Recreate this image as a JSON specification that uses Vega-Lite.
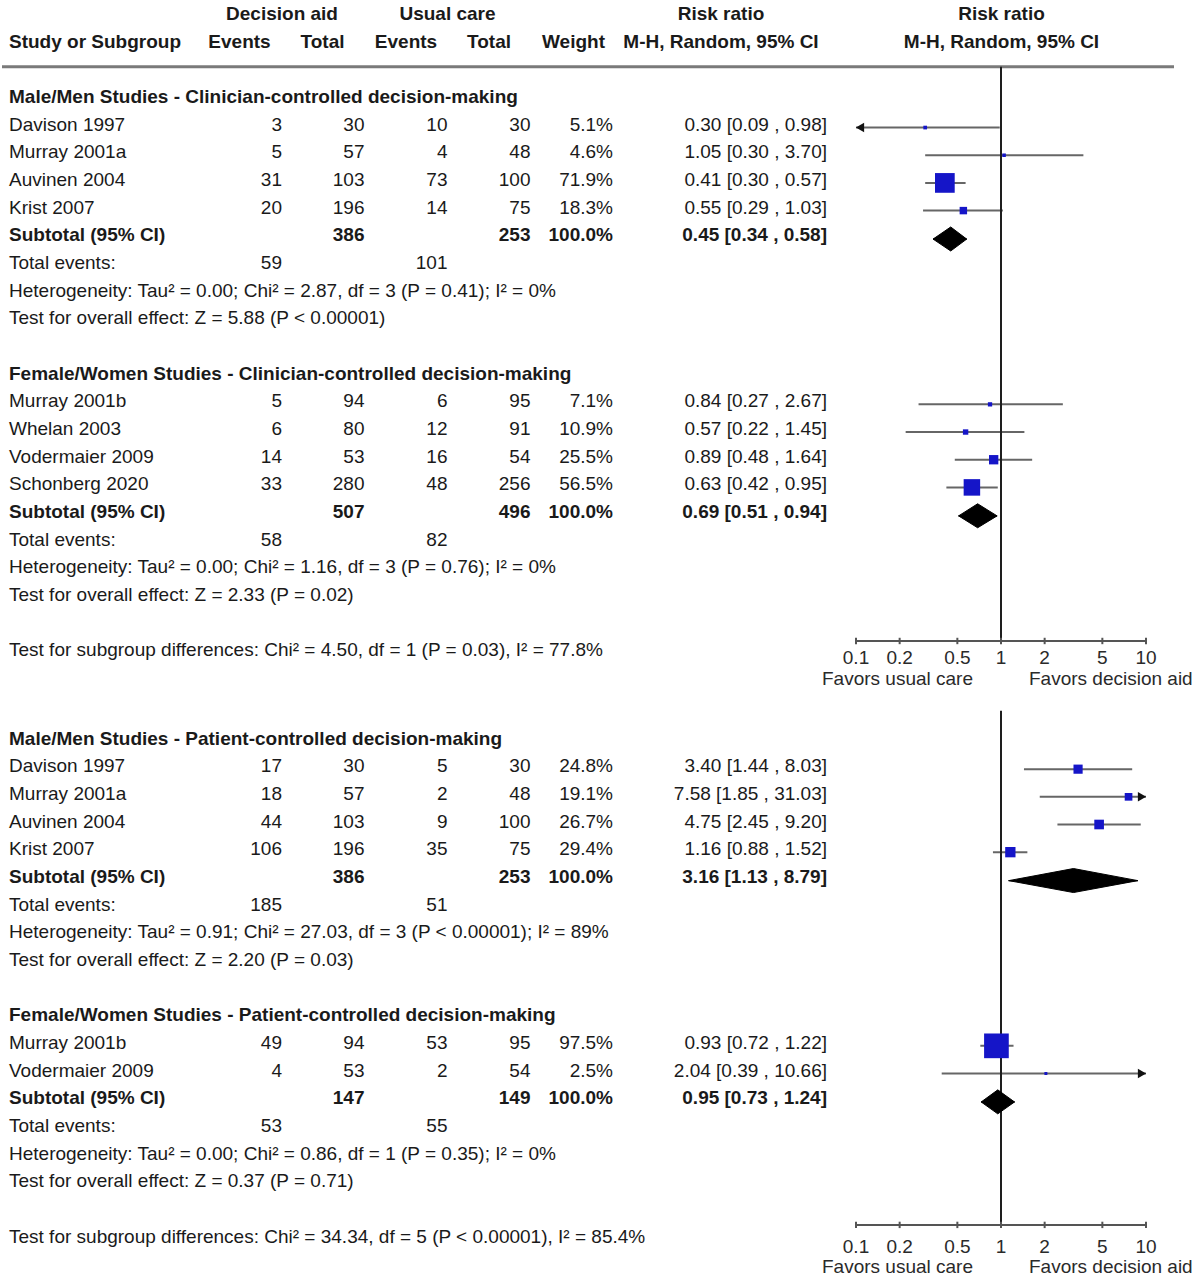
{
  "$schema": "https://vega.github.io/schema/vega-lite/v6.json",
  "padding": 0,
  "background": "white",
  "spacing": 5,
  "config": {
    "view": {"stroke": null},
    "text": {"font": "Liberation Sans", "fontSize": 19, "color": "#1a1a1a"}
  },
  "resolve": {"scale": {"x": "independent", "y": "independent"}},
  "datasets": {
    "cells": [
      {"p":1,"row":0,"col":3,"kind":"header","text":"Decision aid"},
      {"p":1,"row":0,"col":7,"kind":"header","text":"Usual care"},
      {"p":1,"row":0,"col":12,"kind":"header","text":"Risk ratio"},
      {"p":1,"row":0,"col":14,"kind":"header","text":"Risk ratio"},
      {"p":1,"row":1,"col":1,"kind":"header","text":"Study or Subgroup"},
      {"p":1,"row":1,"col":2,"kind":"header","text":"Events"},
      {"p":1,"row":1,"col":4,"kind":"header","text":"Total"},
      {"p":1,"row":1,"col":6,"kind":"header","text":"Events"},
      {"p":1,"row":1,"col":8,"kind":"header","text":"Total"},
      {"p":1,"row":1,"col":10,"kind":"header","text":"Weight"},
      {"p":1,"row":1,"col":12,"kind":"header","text":"M-H, Random, 95% CI"},
      {"p":1,"row":1,"col":14,"kind":"header","text":"M-H, Random, 95% CI"},

      {"p":1,"row":3,"col":1,"kind":"title","text":"Male/Men Studies - Clinician-controlled decision-making"},
      {"p":1,"row":4,"col":1,"kind":"study","text":"Davison 1997"},
      {"p":1,"row":4,"col":3,"kind":"study","text":"3"},
      {"p":1,"row":4,"col":5,"kind":"study","text":"30"},
      {"p":1,"row":4,"col":7,"kind":"study","text":"10"},
      {"p":1,"row":4,"col":9,"kind":"study","text":"30"},
      {"p":1,"row":4,"col":11,"kind":"study","text":"5.1%"},
      {"p":1,"row":4,"col":13,"kind":"study","text":"0.30 [0.09 , 0.98]"},
      {"p":1,"row":5,"col":1,"kind":"study","text":"Murray 2001a"},
      {"p":1,"row":5,"col":3,"kind":"study","text":"5"},
      {"p":1,"row":5,"col":5,"kind":"study","text":"57"},
      {"p":1,"row":5,"col":7,"kind":"study","text":"4"},
      {"p":1,"row":5,"col":9,"kind":"study","text":"48"},
      {"p":1,"row":5,"col":11,"kind":"study","text":"4.6%"},
      {"p":1,"row":5,"col":13,"kind":"study","text":"1.05 [0.30 , 3.70]"},
      {"p":1,"row":6,"col":1,"kind":"study","text":"Auvinen 2004"},
      {"p":1,"row":6,"col":3,"kind":"study","text":"31"},
      {"p":1,"row":6,"col":5,"kind":"study","text":"103"},
      {"p":1,"row":6,"col":7,"kind":"study","text":"73"},
      {"p":1,"row":6,"col":9,"kind":"study","text":"100"},
      {"p":1,"row":6,"col":11,"kind":"study","text":"71.9%"},
      {"p":1,"row":6,"col":13,"kind":"study","text":"0.41 [0.30 , 0.57]"},
      {"p":1,"row":7,"col":1,"kind":"study","text":"Krist 2007"},
      {"p":1,"row":7,"col":3,"kind":"study","text":"20"},
      {"p":1,"row":7,"col":5,"kind":"study","text":"196"},
      {"p":1,"row":7,"col":7,"kind":"study","text":"14"},
      {"p":1,"row":7,"col":9,"kind":"study","text":"75"},
      {"p":1,"row":7,"col":11,"kind":"study","text":"18.3%"},
      {"p":1,"row":7,"col":13,"kind":"study","text":"0.55 [0.29 , 1.03]"},
      {"p":1,"row":8,"col":1,"kind":"subtotal","text":"Subtotal (95% CI)"},
      {"p":1,"row":8,"col":5,"kind":"subtotal","text":"386"},
      {"p":1,"row":8,"col":9,"kind":"subtotal","text":"253"},
      {"p":1,"row":8,"col":11,"kind":"subtotal","text":"100.0%"},
      {"p":1,"row":8,"col":13,"kind":"subtotal","text":"0.45 [0.34 , 0.58]"},
      {"p":1,"row":9,"col":1,"kind":"events","text":"Total events:"},
      {"p":1,"row":9,"col":3,"kind":"events","text":"59"},
      {"p":1,"row":9,"col":7,"kind":"events","text":"101"},
      {"p":1,"row":10,"col":1,"kind":"note","text":"Heterogeneity: Tau² = 0.00; Chi² = 2.87, df = 3 (P = 0.41); I² = 0%"},
      {"p":1,"row":11,"col":1,"kind":"note","text":"Test for overall effect: Z = 5.88 (P < 0.00001)"},

      {"p":1,"row":13,"col":1,"kind":"title","text":"Female/Women Studies - Clinician-controlled decision-making"},
      {"p":1,"row":14,"col":1,"kind":"study","text":"Murray 2001b"},
      {"p":1,"row":14,"col":3,"kind":"study","text":"5"},
      {"p":1,"row":14,"col":5,"kind":"study","text":"94"},
      {"p":1,"row":14,"col":7,"kind":"study","text":"6"},
      {"p":1,"row":14,"col":9,"kind":"study","text":"95"},
      {"p":1,"row":14,"col":11,"kind":"study","text":"7.1%"},
      {"p":1,"row":14,"col":13,"kind":"study","text":"0.84 [0.27 , 2.67]"},
      {"p":1,"row":15,"col":1,"kind":"study","text":"Whelan 2003"},
      {"p":1,"row":15,"col":3,"kind":"study","text":"6"},
      {"p":1,"row":15,"col":5,"kind":"study","text":"80"},
      {"p":1,"row":15,"col":7,"kind":"study","text":"12"},
      {"p":1,"row":15,"col":9,"kind":"study","text":"91"},
      {"p":1,"row":15,"col":11,"kind":"study","text":"10.9%"},
      {"p":1,"row":15,"col":13,"kind":"study","text":"0.57 [0.22 , 1.45]"},
      {"p":1,"row":16,"col":1,"kind":"study","text":"Vodermaier 2009"},
      {"p":1,"row":16,"col":3,"kind":"study","text":"14"},
      {"p":1,"row":16,"col":5,"kind":"study","text":"53"},
      {"p":1,"row":16,"col":7,"kind":"study","text":"16"},
      {"p":1,"row":16,"col":9,"kind":"study","text":"54"},
      {"p":1,"row":16,"col":11,"kind":"study","text":"25.5%"},
      {"p":1,"row":16,"col":13,"kind":"study","text":"0.89 [0.48 , 1.64]"},
      {"p":1,"row":17,"col":1,"kind":"study","text":"Schonberg 2020"},
      {"p":1,"row":17,"col":3,"kind":"study","text":"33"},
      {"p":1,"row":17,"col":5,"kind":"study","text":"280"},
      {"p":1,"row":17,"col":7,"kind":"study","text":"48"},
      {"p":1,"row":17,"col":9,"kind":"study","text":"256"},
      {"p":1,"row":17,"col":11,"kind":"study","text":"56.5%"},
      {"p":1,"row":17,"col":13,"kind":"study","text":"0.63 [0.42 , 0.95]"},
      {"p":1,"row":18,"col":1,"kind":"subtotal","text":"Subtotal (95% CI)"},
      {"p":1,"row":18,"col":5,"kind":"subtotal","text":"507"},
      {"p":1,"row":18,"col":9,"kind":"subtotal","text":"496"},
      {"p":1,"row":18,"col":11,"kind":"subtotal","text":"100.0%"},
      {"p":1,"row":18,"col":13,"kind":"subtotal","text":"0.69 [0.51 , 0.94]"},
      {"p":1,"row":19,"col":1,"kind":"events","text":"Total events:"},
      {"p":1,"row":19,"col":3,"kind":"events","text":"58"},
      {"p":1,"row":19,"col":7,"kind":"events","text":"82"},
      {"p":1,"row":20,"col":1,"kind":"note","text":"Heterogeneity: Tau² = 0.00; Chi² = 1.16, df = 3 (P = 0.76); I² = 0%"},
      {"p":1,"row":21,"col":1,"kind":"note","text":"Test for overall effect: Z = 2.33 (P = 0.02)"},
      {"p":1,"row":23,"col":1,"kind":"note","text":"Test for subgroup differences: Chi² = 4.50, df = 1 (P = 0.03), I² = 77.8%"},

      {"p":2,"row":1,"col":1,"kind":"title","text":"Male/Men Studies - Patient-controlled decision-making"},
      {"p":2,"row":2,"col":1,"kind":"study","text":"Davison 1997"},
      {"p":2,"row":2,"col":3,"kind":"study","text":"17"},
      {"p":2,"row":2,"col":5,"kind":"study","text":"30"},
      {"p":2,"row":2,"col":7,"kind":"study","text":"5"},
      {"p":2,"row":2,"col":9,"kind":"study","text":"30"},
      {"p":2,"row":2,"col":11,"kind":"study","text":"24.8%"},
      {"p":2,"row":2,"col":13,"kind":"study","text":"3.40 [1.44 , 8.03]"},
      {"p":2,"row":3,"col":1,"kind":"study","text":"Murray 2001a"},
      {"p":2,"row":3,"col":3,"kind":"study","text":"18"},
      {"p":2,"row":3,"col":5,"kind":"study","text":"57"},
      {"p":2,"row":3,"col":7,"kind":"study","text":"2"},
      {"p":2,"row":3,"col":9,"kind":"study","text":"48"},
      {"p":2,"row":3,"col":11,"kind":"study","text":"19.1%"},
      {"p":2,"row":3,"col":13,"kind":"study","text":"7.58 [1.85 , 31.03]"},
      {"p":2,"row":4,"col":1,"kind":"study","text":"Auvinen 2004"},
      {"p":2,"row":4,"col":3,"kind":"study","text":"44"},
      {"p":2,"row":4,"col":5,"kind":"study","text":"103"},
      {"p":2,"row":4,"col":7,"kind":"study","text":"9"},
      {"p":2,"row":4,"col":9,"kind":"study","text":"100"},
      {"p":2,"row":4,"col":11,"kind":"study","text":"26.7%"},
      {"p":2,"row":4,"col":13,"kind":"study","text":"4.75 [2.45 , 9.20]"},
      {"p":2,"row":5,"col":1,"kind":"study","text":"Krist 2007"},
      {"p":2,"row":5,"col":3,"kind":"study","text":"106"},
      {"p":2,"row":5,"col":5,"kind":"study","text":"196"},
      {"p":2,"row":5,"col":7,"kind":"study","text":"35"},
      {"p":2,"row":5,"col":9,"kind":"study","text":"75"},
      {"p":2,"row":5,"col":11,"kind":"study","text":"29.4%"},
      {"p":2,"row":5,"col":13,"kind":"study","text":"1.16 [0.88 , 1.52]"},
      {"p":2,"row":6,"col":1,"kind":"subtotal","text":"Subtotal (95% CI)"},
      {"p":2,"row":6,"col":5,"kind":"subtotal","text":"386"},
      {"p":2,"row":6,"col":9,"kind":"subtotal","text":"253"},
      {"p":2,"row":6,"col":11,"kind":"subtotal","text":"100.0%"},
      {"p":2,"row":6,"col":13,"kind":"subtotal","text":"3.16 [1.13 , 8.79]"},
      {"p":2,"row":7,"col":1,"kind":"events","text":"Total events:"},
      {"p":2,"row":7,"col":3,"kind":"events","text":"185"},
      {"p":2,"row":7,"col":7,"kind":"events","text":"51"},
      {"p":2,"row":8,"col":1,"kind":"note","text":"Heterogeneity: Tau² = 0.91; Chi² = 27.03, df = 3 (P < 0.00001); I² = 89%"},
      {"p":2,"row":9,"col":1,"kind":"note","text":"Test for overall effect: Z = 2.20 (P = 0.03)"},

      {"p":2,"row":11,"col":1,"kind":"title","text":"Female/Women Studies - Patient-controlled decision-making"},
      {"p":2,"row":12,"col":1,"kind":"study","text":"Murray 2001b"},
      {"p":2,"row":12,"col":3,"kind":"study","text":"49"},
      {"p":2,"row":12,"col":5,"kind":"study","text":"94"},
      {"p":2,"row":12,"col":7,"kind":"study","text":"53"},
      {"p":2,"row":12,"col":9,"kind":"study","text":"95"},
      {"p":2,"row":12,"col":11,"kind":"study","text":"97.5%"},
      {"p":2,"row":12,"col":13,"kind":"study","text":"0.93 [0.72 , 1.22]"},
      {"p":2,"row":13,"col":1,"kind":"study","text":"Vodermaier 2009"},
      {"p":2,"row":13,"col":3,"kind":"study","text":"4"},
      {"p":2,"row":13,"col":5,"kind":"study","text":"53"},
      {"p":2,"row":13,"col":7,"kind":"study","text":"2"},
      {"p":2,"row":13,"col":9,"kind":"study","text":"54"},
      {"p":2,"row":13,"col":11,"kind":"study","text":"2.5%"},
      {"p":2,"row":13,"col":13,"kind":"study","text":"2.04 [0.39 , 10.66]"},
      {"p":2,"row":14,"col":1,"kind":"subtotal","text":"Subtotal (95% CI)"},
      {"p":2,"row":14,"col":5,"kind":"subtotal","text":"147"},
      {"p":2,"row":14,"col":9,"kind":"subtotal","text":"149"},
      {"p":2,"row":14,"col":11,"kind":"subtotal","text":"100.0%"},
      {"p":2,"row":14,"col":13,"kind":"subtotal","text":"0.95 [0.73 , 1.24]"},
      {"p":2,"row":15,"col":1,"kind":"events","text":"Total events:"},
      {"p":2,"row":15,"col":3,"kind":"events","text":"53"},
      {"p":2,"row":15,"col":7,"kind":"events","text":"55"},
      {"p":2,"row":16,"col":1,"kind":"note","text":"Heterogeneity: Tau² = 0.00; Chi² = 0.86, df = 1 (P = 0.35); I² = 0%"},
      {"p":2,"row":17,"col":1,"kind":"note","text":"Test for overall effect: Z = 0.37 (P = 0.71)"},
      {"p":2,"row":19,"col":1,"kind":"note","text":"Test for subgroup differences: Chi² = 34.34, df = 5 (P < 0.00001), I² = 85.4%"}
    ],
    "studies": [
      {"p":1,"row":4,"est":0.30,"lo":0.09,"hi":0.98,"w":5.1},
      {"p":1,"row":5,"est":1.05,"lo":0.30,"hi":3.70,"w":4.6},
      {"p":1,"row":6,"est":0.41,"lo":0.30,"hi":0.57,"w":71.9},
      {"p":1,"row":7,"est":0.55,"lo":0.29,"hi":1.03,"w":18.3},
      {"p":1,"row":14,"est":0.84,"lo":0.27,"hi":2.67,"w":7.1},
      {"p":1,"row":15,"est":0.57,"lo":0.22,"hi":1.45,"w":10.9},
      {"p":1,"row":16,"est":0.89,"lo":0.48,"hi":1.64,"w":25.5},
      {"p":1,"row":17,"est":0.63,"lo":0.42,"hi":0.95,"w":56.5},
      {"p":2,"row":2,"est":3.40,"lo":1.44,"hi":8.03,"w":24.8},
      {"p":2,"row":3,"est":7.58,"lo":1.85,"hi":31.03,"w":19.1},
      {"p":2,"row":4,"est":4.75,"lo":2.45,"hi":9.20,"w":26.7},
      {"p":2,"row":5,"est":1.16,"lo":0.88,"hi":1.52,"w":29.4},
      {"p":2,"row":12,"est":0.93,"lo":0.72,"hi":1.22,"w":97.5},
      {"p":2,"row":13,"est":2.04,"lo":0.39,"hi":10.66,"w":2.5}
    ],
    "diamond": [
      {"p":1,"row":8,"rr":0.34,"apex":0},
      {"p":1,"row":8,"rr":0.45,"apex":1},
      {"p":1,"row":8,"rr":0.58,"apex":0},
      {"p":1,"row":18,"rr":0.51,"apex":0},
      {"p":1,"row":18,"rr":0.69,"apex":1},
      {"p":1,"row":18,"rr":0.94,"apex":0},
      {"p":2,"row":6,"rr":1.13,"apex":0},
      {"p":2,"row":6,"rr":3.16,"apex":1},
      {"p":2,"row":6,"rr":8.79,"apex":0},
      {"p":2,"row":14,"rr":0.73,"apex":0},
      {"p":2,"row":14,"rr":0.95,"apex":1},
      {"p":2,"row":14,"rr":1.24,"apex":0}
    ],
    "ticks": [
      {"v":0.1,"label":"0.1"},
      {"v":0.2,"label":"0.2"},
      {"v":0.5,"label":"0.5"},
      {"v":1,"label":"1"},
      {"v":2,"label":"2"},
      {"v":5,"label":"5"},
      {"v":10,"label":"10"}
    ],
    "favors": [
      {"side":"below 1","label":"Favors usual care"},
      {"side":"above 1","label":"Favors decision aid"}
    ]
  },
  "vconcat": [
    {
      "width": 1202,
      "height": 692,
      "resolve": {"scale": {"x": "independent"}},
      "layer": [
        {
          "data": {"name": "cells"},
          "encoding": {
            "x": {"field": "col", "type": "quantitative", "axis": null,
                  "scale": {"domain": [0,1,2,3,4,5,6,7,8,9,10,11,12,13,14,15], "range": [2,9,239.5,282,322.5,364.5,406,447.5,489,530.5,573.5,613,721,827,1001.5,1174], "nice": false, "zero": false}},
            "y": {"field": "row", "type": "ordinal", "axis": null,
                  "scale": {"type": "point", "domain": [0,1,2,3,4,5,6,7,8,9,10,11,12,13,14,15,16,17,18,19,20,21,22,23,24], "padding": 0.5}}
          },
          "layer": [
            {"transform": [{"filter": "datum.p == 1 && datum.row == 1 && datum.col == 1"}],
             "mark": {"type": "rule", "color": "#7a7a7a", "strokeWidth": 3, "yOffset": -2.5},
             "encoding": {"x": {"datum": 0, "type": "quantitative"}, "x2": {"datum": 15}, "y": {"datum": 2, "type": "ordinal"}}},
            {"transform": [{"filter": "datum.p == 1 && datum.col == 1 && (datum.kind == 'study' || datum.kind == 'events' || datum.kind == 'note')"}],
             "mark": {"type": "text", "align": "left", "baseline": "middle"},
             "encoding": {"text": {"field": "text"}}},
            {"transform": [{"filter": "datum.p == 1 && datum.col == 1 && (datum.kind == 'title' || datum.kind == 'subtotal' || datum.kind == 'header')"}],
             "mark": {"type": "text", "align": "left", "baseline": "middle", "fontWeight": "bold"},
             "encoding": {"text": {"field": "text"}}},
            {"transform": [{"filter": "datum.p == 1 && datum.col > 1 && (datum.kind == 'study' || datum.kind == 'events')"}],
             "mark": {"type": "text", "align": "right", "baseline": "middle"},
             "encoding": {"text": {"field": "text"}}},
            {"transform": [{"filter": "datum.p == 1 && datum.col > 1 && datum.kind == 'subtotal'"}],
             "mark": {"type": "text", "align": "right", "baseline": "middle", "fontWeight": "bold"},
             "encoding": {"text": {"field": "text"}}},
            {"transform": [{"filter": "datum.p == 1 && datum.col > 1 && datum.kind == 'header'"}],
             "mark": {"type": "text", "align": "center", "baseline": "middle", "fontWeight": "bold"},
             "encoding": {"text": {"field": "text"}}}
          ]
        },
        {
          "encoding": {
            "y": {"field": "row", "type": "ordinal", "axis": null}
          },
          "layer": [
            {"data": {"name": "studies"}, "transform": [{"filter": "datum.p == 1"}],
             "mark": {"type": "rule", "color": "#666666", "strokeWidth": 2, "yOffset": 3},
             "encoding": {
               "x": {"field": "lo", "type": "quantitative", "axis": null,
                     "scale": {"type": "log", "domain": [0.1, 10], "range": [856, 1146], "clamp": true, "nice": false}},
               "x2": {"field": "hi"}}},
            {"data": {"values": [{}]},
             "mark": {"type": "rule", "color": "#1e1e1e", "strokeWidth": 2, "yOffset": -2.5, "y2Offset": -9.5},
             "encoding": {"x": {"datum": 1, "type": "quantitative"}, "y": {"datum": 2, "type": "ordinal"}, "y2": {"datum": 23}}},
            {"data": {"name": "studies"}, "transform": [{"filter": "datum.p == 1 && datum.lo < 0.1"}],
             "mark": {"type": "point", "shape": "triangle-left", "filled": true, "color": "#111111", "opacity": 1, "size": 90, "yOffset": 3, "xOffset": 4},
             "encoding": {"x": {"field": "lo", "type": "quantitative"}}},
            {"data": {"name": "studies"}, "transform": [{"filter": "datum.p == 1"}],
             "mark": {"type": "square", "color": "#1515c8", "opacity": 1, "yOffset": 3},
             "encoding": {
               "x": {"field": "est", "type": "quantitative"},
               "size": {"field": "w", "type": "quantitative", "legend": null,
                        "scale": {"type": "pow", "exponent": 1.5, "domain": [0, 100], "range": [6.5, 633]}}}},
            {"data": {"values": [{}]},
             "mark": {"type": "rule", "color": "#555555", "strokeWidth": 2, "yOffset": -9.5},
             "encoding": {"x": {"datum": 0.1, "type": "quantitative"}, "x2": {"datum": 10}, "y": {"datum": 23, "type": "ordinal"}}},
            {"data": {"name": "ticks"},
             "mark": {"type": "rule", "color": "#555555", "strokeWidth": 2, "yOffset": -12.7, "y2Offset": -6.3},
             "encoding": {"x": {"field": "v", "type": "quantitative"}, "y": {"datum": 23, "type": "ordinal"}, "y2": {"datum": 23}}},
            {"data": {"name": "ticks"},
             "mark": {"type": "text", "align": "center", "baseline": "middle", "dy": 8, "color": "#2a2a2a"},
             "encoding": {"x": {"field": "v", "type": "quantitative"}, "y": {"datum": 23, "type": "ordinal"}, "text": {"field": "label"}}},
            {"data": {"name": "favors"}, "transform": [{"filter": "datum.side == 'below 1'"}],
             "mark": {"type": "text", "align": "right", "baseline": "middle", "dx": -28, "dy": 0.5, "color": "#2a2a2a"},
             "encoding": {"x": {"datum": 1, "type": "quantitative"}, "y": {"datum": 24, "type": "ordinal"}, "text": {"field": "label"}}},
            {"data": {"name": "favors"}, "transform": [{"filter": "datum.side == 'above 1'"}],
             "mark": {"type": "text", "align": "left", "baseline": "middle", "dx": 28, "dy": 0.5, "color": "#2a2a2a"},
             "encoding": {"x": {"datum": 1, "type": "quantitative"}, "y": {"datum": 24, "type": "ordinal"}, "text": {"field": "label"}}},
            {"data": {"name": "diamond"}, "transform": [{"filter": "datum.p == 1"}],
             "resolve": {"scale": {"yOffset": "independent"}},
             "encoding": {
               "x": {"field": "rr", "type": "quantitative"},
               "detail": {"field": "row", "type": "nominal"}
             },
             "layer": [
               {"mark": {"type": "line", "interpolate": "linear-closed", "fill": "#000000", "stroke": "#000000", "strokeWidth": 1},
                "encoding": {"yOffset": {"field": "apex", "type": "quantitative", "scale": {"domain": [0, 1], "range": [3.8, -8.3]}}}},
               {"mark": {"type": "line", "interpolate": "linear-closed", "fill": "#000000", "stroke": "#000000", "strokeWidth": 1},
                "encoding": {"yOffset": {"field": "apex", "type": "quantitative", "scale": {"domain": [0, 1], "range": [3.8, 15.7]}}}}
             ]}
          ]
        }
      ]
    },
    {
      "width": 1202,
      "height": 581,
      "resolve": {"scale": {"x": "independent"}},
      "layer": [
        {
          "data": {"name": "cells"},
          "encoding": {
            "x": {"field": "col", "type": "quantitative", "axis": null,
                  "scale": {"domain": [0,1,2,3,4,5,6,7,8,9,10,11,12,13,14,15], "range": [2,9,239.5,282,322.5,364.5,406,447.5,489,530.5,573.5,613,721,827,1001.5,1174], "nice": false, "zero": false}},
            "y": {"field": "row", "type": "ordinal", "axis": null,
                  "scale": {"type": "point", "domain": [0,1,2,3,4,5,6,7,8,9,10,11,12,13,14,15,16,17,18,19,20], "padding": 0.5}}
          },
          "layer": [
            {"transform": [{"filter": "datum.p == 2 && datum.col == 1 && (datum.kind == 'study' || datum.kind == 'events' || datum.kind == 'note')"}],
             "mark": {"type": "text", "align": "left", "baseline": "middle"},
             "encoding": {"text": {"field": "text"}}},
            {"transform": [{"filter": "datum.p == 2 && datum.col == 1 && (datum.kind == 'title' || datum.kind == 'subtotal' || datum.kind == 'header')"}],
             "mark": {"type": "text", "align": "left", "baseline": "middle", "fontWeight": "bold"},
             "encoding": {"text": {"field": "text"}}},
            {"transform": [{"filter": "datum.p == 2 && datum.col > 1 && (datum.kind == 'study' || datum.kind == 'events')"}],
             "mark": {"type": "text", "align": "right", "baseline": "middle"},
             "encoding": {"text": {"field": "text"}}},
            {"transform": [{"filter": "datum.p == 2 && datum.col > 1 && datum.kind == 'subtotal'"}],
             "mark": {"type": "text", "align": "right", "baseline": "middle", "fontWeight": "bold"},
             "encoding": {"text": {"field": "text"}}}
          ]
        },
        {
          "encoding": {
            "y": {"field": "row", "type": "ordinal", "axis": null}
          },
          "layer": [
            {"data": {"name": "studies"}, "transform": [{"filter": "datum.p == 2"}],
             "mark": {"type": "rule", "color": "#666666", "strokeWidth": 2, "yOffset": 3},
             "encoding": {
               "x": {"field": "lo", "type": "quantitative", "axis": null,
                     "scale": {"type": "log", "domain": [0.1, 10], "range": [856, 1146], "clamp": true, "nice": false}},
               "x2": {"field": "hi"}}},
            {"data": {"values": [{}]},
             "mark": {"type": "rule", "color": "#1e1e1e", "strokeWidth": 2, "y2Offset": -11.6},
             "encoding": {"x": {"datum": 1, "type": "quantitative"}, "y": {"datum": 0, "type": "ordinal"}, "y2": {"datum": 19}}},
            {"data": {"name": "studies"}, "transform": [{"filter": "datum.p == 2 && datum.hi > 10"}],
             "mark": {"type": "point", "shape": "triangle-right", "filled": true, "color": "#111111", "opacity": 1, "size": 90, "yOffset": 3, "xOffset": -4},
             "encoding": {"x": {"field": "hi", "type": "quantitative"}}},
            {"data": {"name": "studies"}, "transform": [{"filter": "datum.p == 2"}],
             "mark": {"type": "square", "color": "#1515c8", "opacity": 1, "yOffset": 3},
             "encoding": {
               "x": {"field": "est", "type": "quantitative"},
               "size": {"field": "w", "type": "quantitative", "legend": null,
                        "scale": {"type": "pow", "exponent": 1.5, "domain": [0, 100], "range": [6.5, 633]}}}},
            {"data": {"values": [{}]},
             "mark": {"type": "rule", "color": "#555555", "strokeWidth": 2, "yOffset": -11.6},
             "encoding": {"x": {"datum": 0.1, "type": "quantitative"}, "x2": {"datum": 10}, "y": {"datum": 19, "type": "ordinal"}}},
            {"data": {"name": "ticks"},
             "mark": {"type": "rule", "color": "#555555", "strokeWidth": 2, "yOffset": -14.8, "y2Offset": -8.4},
             "encoding": {"x": {"field": "v", "type": "quantitative"}, "y": {"datum": 19, "type": "ordinal"}, "y2": {"datum": 19}}},
            {"data": {"name": "ticks"},
             "mark": {"type": "text", "align": "center", "baseline": "middle", "dy": 10, "color": "#2a2a2a"},
             "encoding": {"x": {"field": "v", "type": "quantitative"}, "y": {"datum": 19, "type": "ordinal"}, "text": {"field": "label"}}},
            {"data": {"name": "favors"}, "transform": [{"filter": "datum.side == 'below 1'"}],
             "mark": {"type": "text", "align": "right", "baseline": "middle", "dx": -28, "dy": 2.5, "color": "#2a2a2a"},
             "encoding": {"x": {"datum": 1, "type": "quantitative"}, "y": {"datum": 20, "type": "ordinal"}, "text": {"field": "label"}}},
            {"data": {"name": "favors"}, "transform": [{"filter": "datum.side == 'above 1'"}],
             "mark": {"type": "text", "align": "left", "baseline": "middle", "dx": 28, "dy": 2.5, "color": "#2a2a2a"},
             "encoding": {"x": {"datum": 1, "type": "quantitative"}, "y": {"datum": 20, "type": "ordinal"}, "text": {"field": "label"}}},
            {"data": {"name": "diamond"}, "transform": [{"filter": "datum.p == 2"}],
             "resolve": {"scale": {"yOffset": "independent"}},
             "encoding": {
               "x": {"field": "rr", "type": "quantitative"},
               "detail": {"field": "row", "type": "nominal"}
             },
             "layer": [
               {"mark": {"type": "line", "interpolate": "linear-closed", "fill": "#000000", "stroke": "#000000", "strokeWidth": 1},
                "encoding": {"yOffset": {"field": "apex", "type": "quantitative", "scale": {"domain": [0, 1], "range": [3.8, -8.3]}}}},
               {"mark": {"type": "line", "interpolate": "linear-closed", "fill": "#000000", "stroke": "#000000", "strokeWidth": 1},
                "encoding": {"yOffset": {"field": "apex", "type": "quantitative", "scale": {"domain": [0, 1], "range": [3.8, 15.7]}}}}
             ]}
          ]
        }
      ]
    }
  ]
}
